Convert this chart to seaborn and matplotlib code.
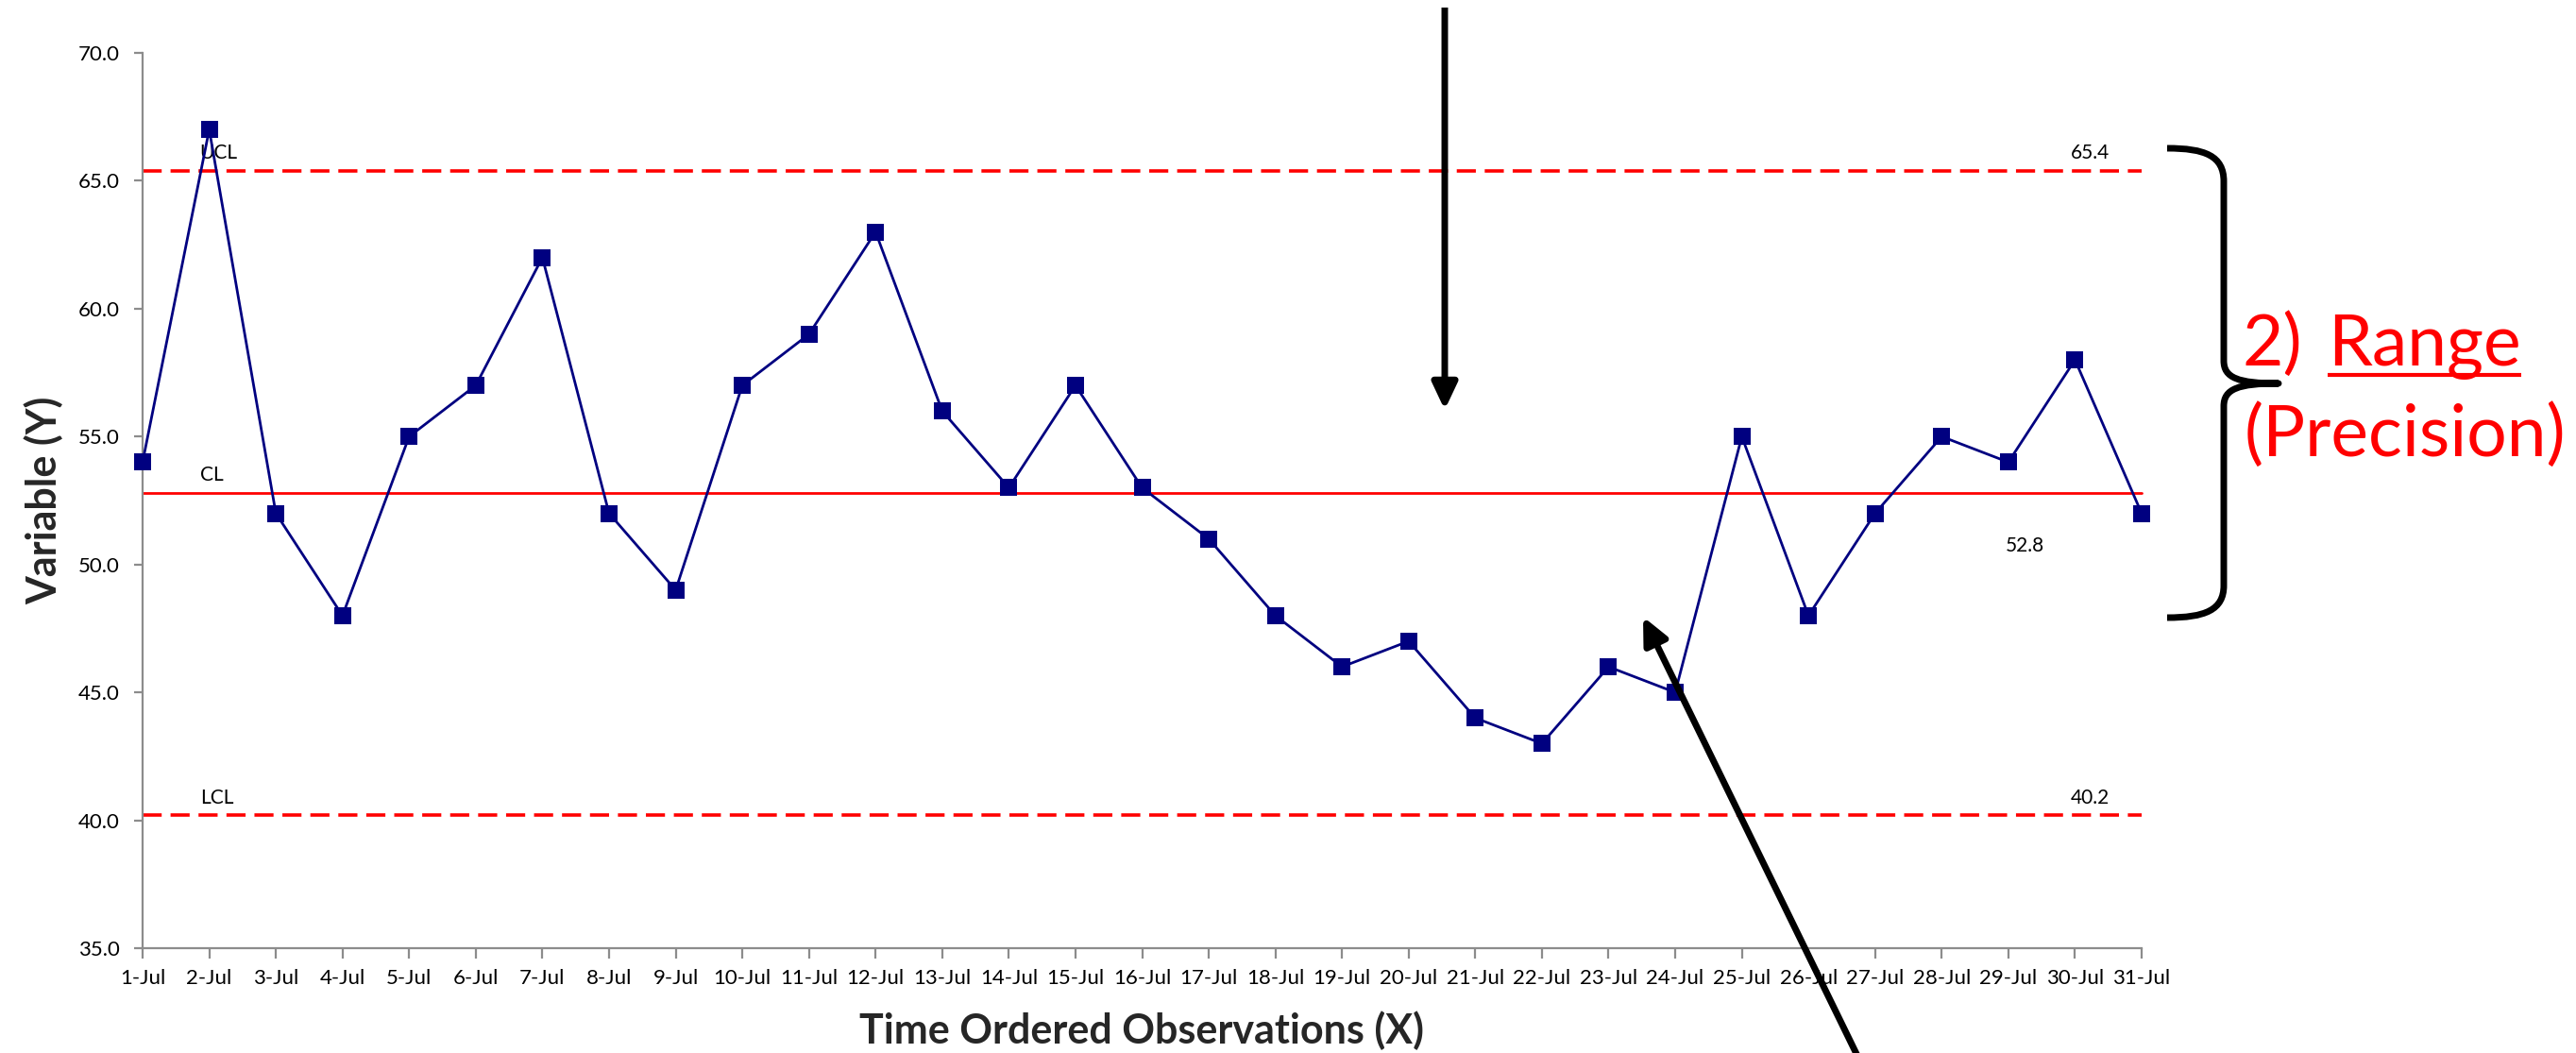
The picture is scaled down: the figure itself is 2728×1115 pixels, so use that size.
import matplotlib
matplotlib.use("Agg")
import matplotlib.pyplot as plt
import seaborn as sns
import pandas as pd
from matplotlib.patches import FancyArrowPatch, PathPatch
from matplotlib.path import Path

# ---- data -------------------------------------------------------------
dates = ["1-Jul", "2-Jul", "3-Jul", "4-Jul", "5-Jul", "6-Jul", "7-Jul", "8-Jul",
         "9-Jul", "10-Jul", "11-Jul", "12-Jul", "13-Jul", "14-Jul", "15-Jul",
         "16-Jul", "17-Jul", "18-Jul", "19-Jul", "20-Jul", "21-Jul", "22-Jul",
         "23-Jul", "24-Jul", "25-Jul", "26-Jul", "27-Jul", "28-Jul", "29-Jul",
         "30-Jul", "31-Jul"]
values = [54, 67, 52, 48, 55, 57, 62, 52, 49, 57, 59, 63, 56, 53, 57, 53,
          51, 48, 46, 47, 44, 43, 46, 45, 55, 48, 52, 55, 54, 58, 52]
center_line = 52.8
upper_limit = 65.4
lower_limit = 40.2
y_ticks = [35.0, 40.0, 45.0, 50.0, 55.0, 60.0, 65.0, 70.0]

NAVY = "#000080"
RED = "#FF0000"
GREY = "#8C8C8C"

sns.set_style("white")
plt.rcParams["font.family"] = ["Lato", "DejaVu Sans"]

W, H = 2728, 1115
fig = plt.figure(figsize=(W / 100, H / 100), dpi=100)
ax_l, ax_r, ax_t, ax_b = 151, 2268, 56, 1004
ax = fig.add_axes([ax_l / W, 1 - ax_b / H, (ax_r - ax_l) / W, (ax_b - ax_t) / H])

df = pd.DataFrame({"obs": list(range(len(dates))), "value": values})

# control limits
ax.axhline(center_line, color=RED, lw=2.0, zorder=2)
for lim in (upper_limit, lower_limit):
    ax.axhline(lim, color=RED, lw=2.6, ls=(0, (5.6, 2.6)), zorder=2)

sns.lineplot(data=df, x="obs", y="value", ax=ax, color=NAVY, linewidth=2.0,
             marker="s", markersize=13, markeredgewidth=0, zorder=4)
for ln in ax.lines:
    ln.set_clip_on(False)

ax.set_xlim(0, len(dates) - 1)
ax.set_ylim(y_ticks[0], y_ticks[-1])
ax.set_xticks(range(len(dates)))
ax.set_xticklabels(dates)
ax.set_yticks(y_ticks)
ax.set_yticklabels([f"{t:.1f}" for t in y_ticks])

for side in ("top", "right"):
    ax.spines[side].set_visible(False)
for side in ("left", "bottom"):
    ax.spines[side].set_color(GREY)
    ax.spines[side].set_linewidth(1.6)
ax.tick_params(axis="x", direction="out", length=8, width=1.6, color=GREY,
               labelsize=16, pad=8, labelcolor="black", bottom=True)
ax.tick_params(axis="y", direction="out", length=6.5, width=1.6, color=GREY,
               labelsize=16, pad=11, labelcolor="black", left=True)

ax.set_xlabel("Time Ordered Observations (X)", fontsize=31, fontweight="bold")
ax.set_ylabel("Variable (Y)", fontsize=31, fontweight="bold")
ax.xaxis.set_label_coords(0.5, (ax_b - 1070) / (ax_b - ax_t))
ax.yaxis.set_label_coords((67 - ax_l) / (ax_r - ax_l), 0.5)

# limit labels
lab_kw = dict(textcoords="offset points", fontsize=15, va="baseline", color="black")
for name, lim in (("UCL", upper_limit), ("CL", center_line), ("LCL", lower_limit)):
    ax.annotate(name, (0.86, lim), xytext=(0, 9), ha="left", **lab_kw)
ax.annotate(f"{upper_limit:.1f}", (29.52, upper_limit), xytext=(0, 9), ha="right", **lab_kw)
ax.annotate(f"{lower_limit:.1f}", (29.52, lower_limit), xytext=(0, 9), ha="right", **lab_kw)
ax.annotate(f"{center_line:.1f}", (28.54, center_line), xytext=(0, -45), ha="right", **lab_kw)

# ---- overlay in figure pixel space for arrows, brace and callout ----
ov = fig.add_axes([0, 0, 1, 1], zorder=10)
ov.set_xlim(0, W)
ov.set_ylim(H, 0)
ov.axis("off")
ov.patch.set_alpha(0)

arrow_style = "-|>,head_length=1.7,head_width=0.8"
for start, end in (((1530, 8), (1530, 434)), ((1968, 1120), (1740, 653))):
    ov.add_patch(FancyArrowPatch(start, end, arrowstyle=arrow_style,
                                 mutation_scale=10, lw=5, color="black",
                                 shrinkA=0, shrinkB=0, capstyle="butt"))

# curly brace
verts = [(2295, 157), (2335, 157), (2355, 165), (2355, 192),
         (2355, 382),
         (2355, 400), (2370, 406), (2413, 406),
         (2370, 406), (2355, 412), (2355, 430),
         (2355, 620),
         (2355, 646), (2335, 654), (2295, 654)]
codes = [Path.MOVETO, Path.CURVE4, Path.CURVE4, Path.CURVE4,
         Path.LINETO,
         Path.CURVE4, Path.CURVE4, Path.CURVE4,
         Path.CURVE4, Path.CURVE4, Path.CURVE4,
         Path.LINETO,
         Path.CURVE4, Path.CURVE4, Path.CURVE4]
ov.add_patch(PathPatch(Path(verts, codes), fill=False, lw=5, color="black",
                       capstyle="butt", joinstyle="round"))

big = dict(color=RED, fontsize=54, va="baseline", ha="left")
ov.text(2374, 387, "2)", **big)
t_range = ov.text(2465, 387, "Range", **big)
ov.text(2377, 483, "(Precision)", **big)

renderer = fig.canvas.get_renderer()
bb = t_range.get_window_extent(renderer)
ov.plot([bb.x0, bb.x1], [397, 397], color=RED, lw=3, solid_capstyle="butt")

fig.savefig("out.png", dpi=100)
